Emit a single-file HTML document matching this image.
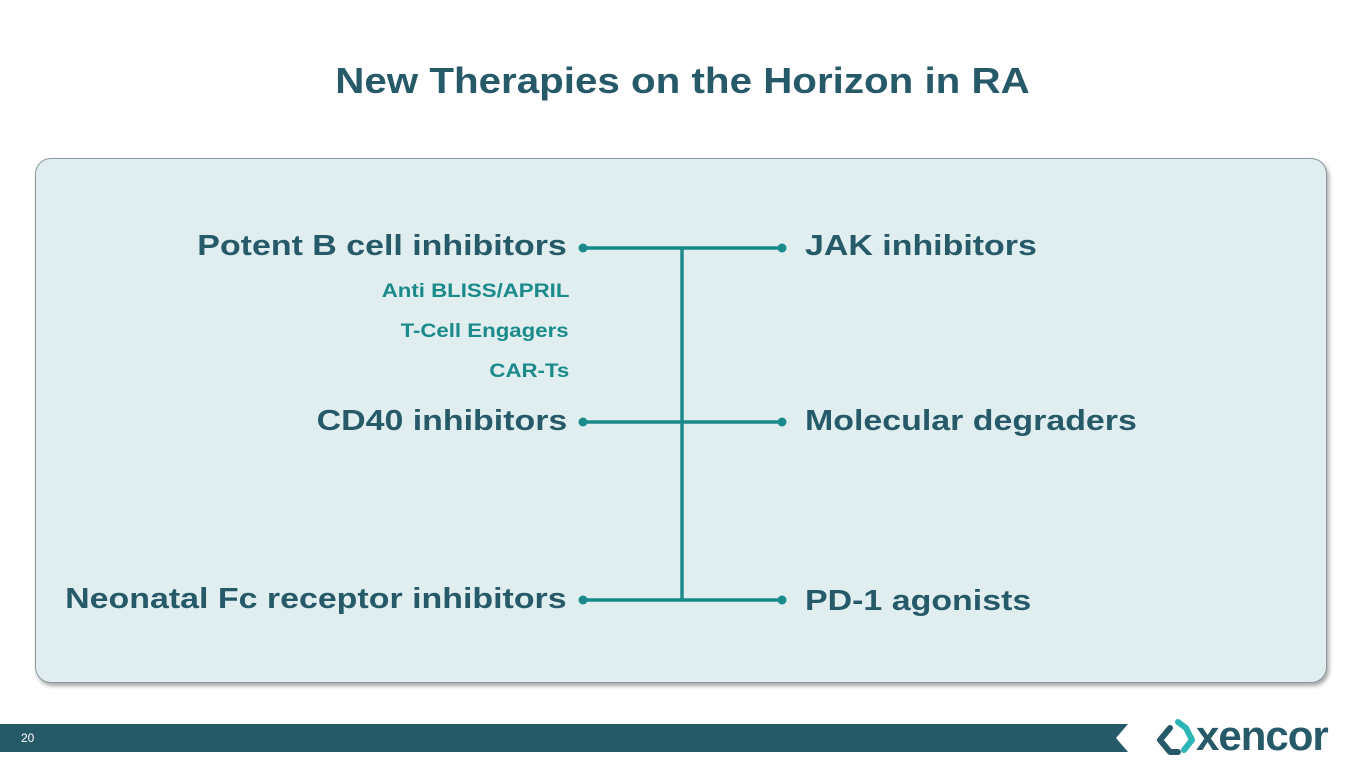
<!DOCTYPE html>
<html><head><style>
body{margin:0;width:1365px;height:768px;background:#fff;position:relative;overflow:hidden;font-family:"Liberation Sans",Arial,sans-serif;font-weight:bold}
.t{position:absolute;white-space:nowrap}
h1{position:absolute;left:0;width:1365px;top:60px;margin:0;text-align:center;font-size:36px;color:#275a69;transform:scaleX(1.12)}
.box{position:absolute;left:35px;top:158px;width:1290px;height:523px;background:#e1eef0;border:1px solid #8a9aa0;border-radius:16px;box-shadow:2px 3px 4px rgba(0,0,0,.35)}
.l{font-size:29px;color:#275a69}
.s{font-size:19px;color:#1a8a8a}
.r{text-align:right;transform:scaleX(1.17);transform-origin:right center}
.lf{transform:scaleX(1.17);transform-origin:left center}
</style></head><body>
<h1>New Therapies on the Horizon in RA</h1>
<div class="box"></div>
<svg style="position:absolute;left:0;top:0" width="1365" height="768">
<g stroke="#1a8a8a" stroke-width="3.5" fill="#1a8a8a">
<line x1="583" y1="248" x2="782" y2="248"/>
<line x1="583" y1="422" x2="782" y2="422"/>
<line x1="583" y1="600" x2="782" y2="600"/>
<line x1="682" y1="248" x2="682" y2="600"/>
<circle cx="583" cy="248" r="4.5" stroke="none"/><circle cx="782" cy="248" r="4.5" stroke="none"/>
<circle cx="583" cy="422" r="4.5" stroke="none"/><circle cx="782" cy="422" r="4.5" stroke="none"/>
<circle cx="583" cy="600" r="4.5" stroke="none"/><circle cx="782" cy="600" r="4.5" stroke="none"/>
</g>
<path d="M0 724 H1128 L1116 738 L1128 752 H0 Z" fill="#275a69"/>
<g fill="none" stroke-width="6" stroke-linecap="round" stroke-linejoin="round">
<path d="M1170 728 L1160 740 L1170 752 L1178 752" stroke="#275a69"/>
<path d="M1178 722 L1186 728 L1192 740 L1184 750" stroke="#2bb5b5"/>
</g>
</svg>
<div class="t l r" style="right:798px;top:230px">Potent B cell inhibitors</div>
<div class="t s r" style="right:796px;top:281px">Anti BLISS/APRIL</div>
<div class="t s r" style="right:796px;top:321px">T-Cell Engagers</div>
<div class="t s r" style="right:796px;top:361px">CAR-Ts</div>
<div class="t l r" style="right:798px;top:405px">CD40 inhibitors</div>
<div class="t l r" style="right:798px;top:583px">Neonatal Fc receptor inhibitors</div>
<div class="t l lf" style="left:805px;top:230px">JAK inhibitors</div>
<div class="t l lf" style="left:805px;top:405px">Molecular degraders</div>
<div class="t l lf" style="left:805px;top:585px">PD-1 agonists</div>
<div class="t" style="left:21px;top:731px;font-size:12px;font-weight:normal;color:#fff">20</div>
<div class="t" style="left:1196px;top:712px;font-size:42px;color:#275a69;letter-spacing:-1px">xencor</div>
</body></html>
